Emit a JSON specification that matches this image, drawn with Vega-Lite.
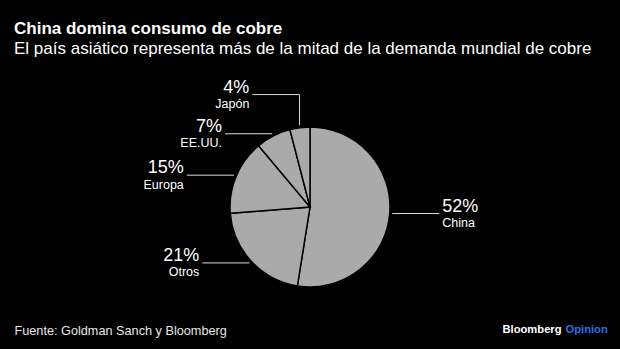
{
  "$schema": "https://vega.github.io/schema/vega-lite/v6.json",
  "width": 620,
  "height": 284,
  "autosize": {"type": "none"},
  "padding": {"top": 65, "left": 0, "right": 0, "bottom": 0},
  "background": "#000000",
  "title": {
    "text": "China domina consumo de cobre",
    "subtitle": "El país asiático representa más de la mitad de la demanda mundial de cobre",
    "anchor": "start",
    "frame": "group",
    "dx": 14,
    "offset": 7,
    "font": "Liberation Sans",
    "fontSize": 17,
    "fontWeight": "bold",
    "color": "#ffffff",
    "subtitleFont": "Liberation Sans",
    "subtitleFontSize": 17,
    "subtitleColor": "#ffffff",
    "subtitlePadding": 3
  },
  "config": {
    "view": {"stroke": null},
    "font": "Liberation Sans"
  },
  "data": {
    "values": [
      {"region": "China", "value": 52, "order": 1},
      {"region": "Otros", "value": 21, "order": 2},
      {"region": "Europa", "value": 15, "order": 3},
      {"region": "EE.UU.", "value": 7, "order": 4},
      {"region": "Japón", "value": 4, "order": 5}
    ]
  },
  "transform": [
    {"joinaggregate": [{"op": "sum", "field": "value", "as": "total"}]},
    {"window": [{"op": "sum", "field": "value", "as": "cum"}], "sort": [{"field": "order"}], "frame": [null, 0]},
    {"calculate": "2*PI*(datum.cum - datum.value/2)/datum.total", "as": "mid"},
    {"calculate": "1.03*sin(datum.mid)", "as": "ax"},
    {"calculate": "1.03*cos(datum.mid)", "as": "ay"},
    {"calculate": "datum.ax < 0 ? 'left' : 'right'", "as": "side"},
    {"window": [{"op": "lag", "field": "ay", "as": "prevY"}], "groupby": ["side"], "sort": [{"field": "order"}]},
    {"calculate": "datum.prevY == null ? datum.ay : max(datum.ay, datum.prevY + 0.49)", "as": "ly"},
    {"calculate": "datum.ax + (datum.side == 'left' ? -0.59 : 0.59)", "as": "lx"},
    {"calculate": "datum.value + '%'", "as": "pct"}
  ],
  "resolve": {"axis": {"x": "independent", "y": "independent"}},
  "layer": [
    {
      "mark": {"type": "arc", "outerRadius": 80, "fill": "#aaaaaa", "stroke": "#000000", "strokeWidth": 1.5},
      "encoding": {
        "theta": {"field": "value", "type": "quantitative", "stack": true},
        "order": {"field": "order", "type": "quantitative"}
      }
    },
    {
      "mark": {"type": "rule", "color": "#dddddd", "strokeWidth": 1},
      "encoding": {
        "x": {"field": "ax", "type": "quantitative", "scale": {"domain": [-3.875, 3.875], "nice": false, "zero": false},
          "axis": {"orient": "bottom", "domain": false, "ticks": false, "labels": false, "grid": false,
            "title": "Fuente: Goldman Sanch y Bloomberg", "titleColor": "#e6e6e6", "titleFontSize": 12.7, "titleFontWeight": "normal",
            "titleFont": "Liberation Sans", "titleAnchor": "start", "titleAlign": "left", "titleBaseline": "alphabetic", "titleX": 14, "titleY": -15}},
        "y": {"field": "ay", "type": "quantitative", "scale": {"domain": [-1.775, 1.775], "nice": false, "zero": false},
          "axis": {"orient": "left", "domain": false, "ticks": false, "labels": false, "grid": false,
            "title": "Bloomberg", "titleColor": "#ffffff", "titleFontSize": 11.2, "titleFontWeight": "bold", "titleAngle": 0,
            "titleFont": "Liberation Sans", "titleAlign": "left", "titleBaseline": "alphabetic", "titleX": 502, "titleY": 267}},
        "y2": {"field": "ly"}
      }
    },
    {
      "mark": {"type": "rule", "color": "#dddddd", "strokeWidth": 1},
      "encoding": {
        "x": {"field": "ax", "type": "quantitative", "axis": null},
        "x2": {"field": "lx"},
        "y": {"field": "ly", "type": "quantitative",
          "axis": {"orient": "right", "domain": false, "ticks": false, "labels": false, "grid": false,
            "title": "Opinion", "titleColor": "#2f6fe0", "titleFontSize": 11.2, "titleFontWeight": "bold", "titleAngle": 0,
            "titleFont": "Liberation Sans", "titleAlign": "left", "titleBaseline": "alphabetic", "titleX": -55, "titleY": 267}}
      }
    },
    {
      "transform": [{"filter": "datum.side == 'left'"}],
      "mark": {"type": "text", "align": "right", "baseline": "alphabetic", "dx": -3, "dy": -2, "fontSize": 18, "color": "#ffffff"},
      "encoding": {
        "x": {"field": "lx", "type": "quantitative", "axis": null},
        "y": {"field": "ly", "type": "quantitative", "axis": null},
        "text": {"field": "pct"}
      }
    },
    {
      "transform": [{"filter": "datum.side == 'left'"}],
      "mark": {"type": "text", "align": "right", "baseline": "alphabetic", "dx": -3, "dy": 13.5, "fontSize": 12.5, "color": "#ffffff"},
      "encoding": {
        "x": {"field": "lx", "type": "quantitative", "axis": null},
        "y": {"field": "ly", "type": "quantitative", "axis": null},
        "text": {"field": "region"}
      }
    },
    {
      "transform": [{"filter": "datum.side == 'right'"}],
      "mark": {"type": "text", "align": "left", "baseline": "alphabetic", "dx": 3, "dy": -2, "fontSize": 18, "color": "#ffffff"},
      "encoding": {
        "x": {"field": "lx", "type": "quantitative", "axis": null},
        "y": {"field": "ly", "type": "quantitative", "axis": null},
        "text": {"field": "pct"}
      }
    },
    {
      "transform": [{"filter": "datum.side == 'right'"}],
      "mark": {"type": "text", "align": "left", "baseline": "alphabetic", "dx": 3, "dy": 13.5, "fontSize": 12.5, "color": "#ffffff"},
      "encoding": {
        "x": {"field": "lx", "type": "quantitative", "axis": null},
        "y": {"field": "ly", "type": "quantitative", "axis": null},
        "text": {"field": "region"}
      }
    }
  ]
}
